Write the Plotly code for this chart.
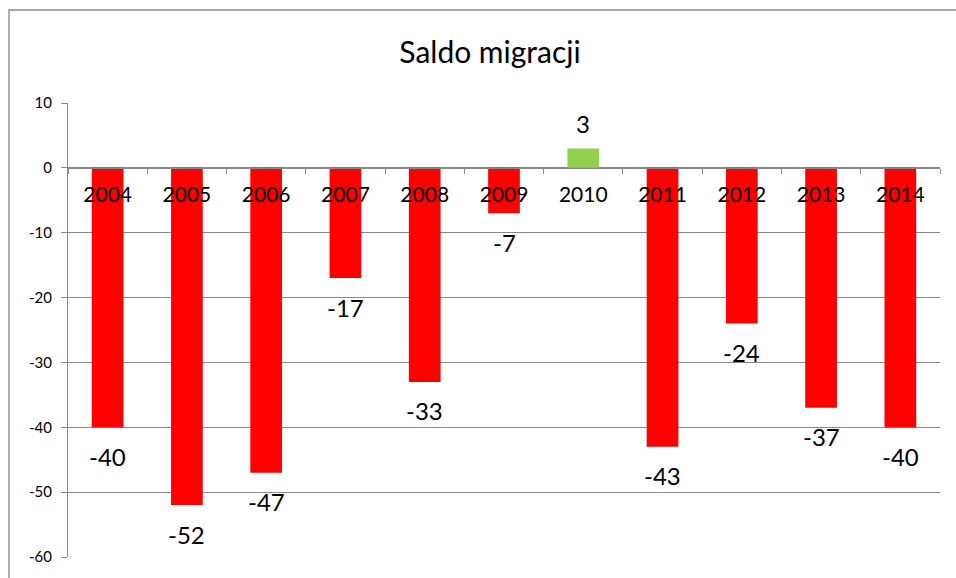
import plotly.graph_objects as go

years = ["2004", "2005", "2006", "2007", "2008", "2009", "2010", "2011", "2012", "2013", "2014"]
saldo = [-40, -52, -47, -17, -33, -7, 3, -43, -24, -37, -40]
y_ticks = [10, 0, -10, -20, -30, -40, -50, -60]
y_tick_text = ["10", "0", "-10", "-20", "-30", "-40", "-50", "-60"]

NEG_COLOR = "#FF0000"
POS_COLOR = "#92D050"
GRID = "#898989"
FONT = "Lato, Carlito, Calibri, sans-serif"

colors = [POS_COLOR if v > 0 else NEG_COLOR for v in saldo]

fig = go.Figure()
fig.add_trace(go.Bar(x=years, y=saldo, marker=dict(color=colors, line=dict(width=0)),
                     hoverinfo="x+y"))

for i, v in enumerate(saldo):
    fig.add_annotation(x=i, y=v, text=str(v), showarrow=False,
                       yshift=(25 if v > 0 else -29), yanchor="middle",
                       font=dict(family=FONT, size=24, color="#000000"))

W, H = 956, 578
L, T = 68, 103
R = W - 940
B = H - 557
pw = W - L - R
ph = H - T - B

# outer chart border (extends past the window on right and bottom)
fig.add_shape(type="rect", xref="paper", yref="paper",
              x0=(9 - L) / pw, x1=(W + 40 - L) / pw,
              y0=(H - B - (H + 40)) / ph, y1=(H - B - 10) / ph,
              line=dict(color=GRID, width=1.3), fillcolor="rgba(0,0,0,0)", layer="below")

ymin, ymax = -60, 10
fig.update_layout(
    width=W, height=H,
    margin=dict(l=L, r=R, t=T, b=B, autoexpand=False),
    paper_bgcolor="white", plot_bgcolor="white",
    bargap=0.6,
    showlegend=False,
    font=dict(family=FONT, color="#000000"),
    title=dict(text="Saldo migracji", x=(490 - L) / pw, xref="paper", xanchor="center",
               y=1 - 52 / H, yref="container", yanchor="middle",
               font=dict(family=FONT, size=30, color="#000000")),
    xaxis=dict(type="category", range=[-0.5, len(years) - 0.5], automargin=False,
               anchor="free", position=(0 - ymin) / (ymax - ymin),
               showline=True, linecolor=GRID, linewidth=1,
               ticks="outside", tickson="boundaries", ticklen=5, tickcolor=GRID,
               showgrid=False, tickangle=0,
               tickfont=dict(family=FONT, size=21, color="#000000"),
               ticklabelstandoff=8),
    yaxis=dict(range=[ymin, ymax], tickvals=y_ticks, ticktext=y_tick_text, automargin=False,
               showgrid=True, gridcolor=GRID,
               gridwidth=1, zeroline=False, showline=True, linecolor=GRID,
               ticks="outside", ticklen=6, tickcolor=GRID,
               tickfont=dict(family=FONT, size=15, color="#000000"),
               ticklabelstandoff=6),
)

fig.write_html(
    "out.html",
    config={"displayModeBar": False},
    post_script="document.documentElement.style.overflow='hidden';"
                "document.body.style.margin='0';document.body.style.overflow='hidden';",
)
